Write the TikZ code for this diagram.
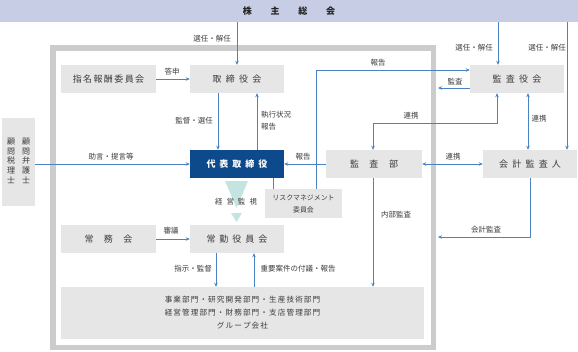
\documentclass[tikz,border=0pt]{standalone}
\usepackage{fontspec}
\setmainfont{Noto Sans CJK JP}
\usetikzlibrary{arrows.meta}
\definecolor{barc}{HTML}{C6CDE4}
\definecolor{boxc}{HTML}{E6E6E6}
\definecolor{framec}{HTML}{CCCCCC}
\definecolor{linec}{HTML}{4C82C3}
\definecolor{darkc}{HTML}{0D4A8B}
\definecolor{tric}{HTML}{C3E4E0}
\definecolor{txtc}{HTML}{3A3A3A}
\makeatletter
\newcommand\lsp[2]{\begingroup\let\lsp@sep\relax\@tfor\lsp@c:=#2\do{\lsp@sep\lsp@c\def\lsp@sep{\hspace{#1}}}\endgroup}
\makeatother
\tikzset{
  box/.style={fill=boxc, draw=none, inner sep=0pt, text=txtc, font=\fontsize{9}{11}\selectfont},
  lab/.style={inner sep=0pt, text=txtc, font=\fontsize{7.5}{9}\selectfont},
  conn/.style={draw=linec, line width=0.8pt},
  arr/.style={conn, -{Stealth[length=4pt,width=3.5pt]}},
  darr/.style={conn, {Stealth[length=4pt,width=3.5pt]}-{Stealth[length=4pt,width=3.5pt]}}
}
\begin{document}
\begin{tikzpicture}[x=1pt,y=-1pt]
\useasboundingbox (0,0) rectangle (578,351);
% frame
\draw[framec, line width=5.5pt] (52.75,47.75) rectangle (433.25,347.25);
% top bar
\node[fill=barc, inner sep=0pt, minimum width=578pt, minimum height=22pt, text=black!85, font=\fontsize{9}{11}\selectfont\bfseries] (kabunushi) at (289,11) {\lsp{18.7pt}{株主総会}};
% nodes
\node[box, minimum width=95pt, minimum height=28pt] (shimei) at (108.5,79) {\lsp{1.4pt}{指名報酬委員会}};
\node[box, minimum width=94pt, minimum height=28pt] (torishimari) at (237,79) {\lsp{4.3pt}{取締役会}};
\node[box, minimum width=94pt, minimum height=28pt] (kansayaku) at (517,79) {\lsp{4.3pt}{監査役会}};
\node[box, fill=darkc, text=white, minimum width=94pt, minimum height=28pt, font=\fontsize{9}{11}\selectfont\bfseries] (daihyo) at (237,164) {\lsp{4pt}{代表取締役}};
\node[box, minimum width=96pt, minimum height=28pt] (kansabu) at (374,164) {\lsp{10.5pt}{監査部}};
\node[box, minimum width=94pt, minimum height=28pt] (kaikei) at (530,164) {\lsp{4.25pt}{会計監査人}};
\node[box, minimum width=33pt, minimum height=88pt, font=\fontsize{8}{9.8}\selectfont] (komon) at (18.5,162) {\begin{tabular}{@{}c@{\hspace{7pt}}c@{}}顧&顧\\問&問\\税&弁\\理&護\\士&士\end{tabular}};
\node[box, minimum width=77pt, minimum height=29pt, align=center, font=\fontsize{6.9}{12}\selectfont] (risk) at (303.5,203.5) {リスクマネジメント\\委員会};
\node[box, minimum width=95pt, minimum height=28pt] (jomukai) at (108.5,239) {\lsp{10.5pt}{常務会}};
\node[box, minimum width=94pt, minimum height=28pt] (jokin) at (237,239) {\lsp{4pt}{常勤役員会}};
\node[box, minimum width=363pt, minimum height=52pt, align=center, font=\fontsize{7.6}{13}\selectfont] (bottom) at (242.5,313) {\lsp{1.1pt}{事業部門・研究開発部門・生産技術部門}\\\lsp{1.1pt}{経営管理部門・財務部門・支店管理部門}\\\lsp{1.1pt}{グループ会社}};
% triangles
\fill[tric] (225,181) -- (248,181) -- (236.5,208) -- cycle;
\fill[tric] (231,213) -- (242,213) -- (236.5,222) -- cycle;
\node[lab] (keiei) at (236,202) {\lsp{4pt}{経営監視}};
% coordinates
\coordinate (t2) at (498,0);
\coordinate (t3) at (567,0);
\coordinate (v1) at (218,0);
\coordinate (v2) at (257,0);
\coordinate (v3) at (273,0);
\coordinate (v4) at (216,0);
\coordinate (v5) at (254,0);
\coordinate (rk) at (316,70);
\coordinate (ka) at (438,88);
\coordinate (rc1) at (373,123);
\coordinate (rc2) at (497,123);
\coordinate (rc3) at (528,0);
\coordinate (kk) at (530,237);
\coordinate (kk2) at (438,237);
% connectors
\draw[arr] (kabunushi.south -| torishimari.north) -- (torishimari.north);
\draw[arr] (kabunushi.south -| t2) -- (kansayaku.north -| t2);
\draw[arr] (kabunushi.south -| t3) -- (kaikei.north -| t3);
\draw[arr] (shimei.east) -- (torishimari.west);
\draw[arr] (torishimari.south -| v1) -- (daihyo.north -| v1);
\draw[arr] (daihyo.north -| v2) -- (torishimari.south -| v2);
\draw[conn] (daihyo.south -| v3) -- (risk.north -| v3);
\draw[arr] (risk.north -| rk) -- (rk) -- (kansayaku.west |- rk);
\draw[arr] (kansayaku.west |- ka) -- (ka);
\draw[darr] (kansabu.north -| rc1) -- (rc1) -- (rc2) -- (kansayaku.south -| rc2);
\draw[darr] (kansayaku.south -| rc3) -- (kaikei.north -| rc3);
\draw[arr] (komon.east |- daihyo.west) -- (daihyo.west);
\draw[arr] (kansabu.west) -- (daihyo.east);
\draw[darr] (kansabu.east) -- (kaikei.west);
\draw[arr] (kansabu.south -| rc1) -- (bottom.north -| rc1);
\draw[arr] (kaikei.south -| kk) -- (kk) -- (kk2);
\draw[arr] (jomukai.east) -- (jokin.west);
\draw[arr] (jokin.south -| v4) -- (bottom.north -| v4);
\draw[arr] (bottom.north -| v5) -- (jokin.south -| v5);
% labels
\node[lab] (l1) at (212,39) {選任・解任};
\node[lab] (l2) at (474,48) {選任・解任};
\node[lab] (l3) at (547,48) {選任・解任};
\node[lab] (l4) at (172,72) {答申};
\node[lab] (l5) at (194,121) {監督・選任};
\node[lab, anchor=west, align=left, font=\fontsize{7.5}{12}\selectfont] (l6) at (261,121) {執行状況\\報告};
\node[lab] (l7) at (378,63) {報告};
\node[lab] (l8) at (455,82) {監査};
\node[lab] (l9) at (411,116) {連携};
\node[lab] (l10) at (539,119) {連携};
\node[lab] (l11) at (111,157) {助言・提言等};
\node[lab] (l12) at (303,157) {報告};
\node[lab] (l13) at (453,157) {連携};
\node[lab] (l14) at (396,215) {内部監査};
\node[lab] (l15) at (486,230) {会計監査};
\node[lab] (l16) at (171,231) {審議};
\node[lab] (l17) at (193,269) {指示・監督};
\node[lab] (l18) at (298,269) {重要案件の付議・報告};
\end{tikzpicture}
\end{document}
